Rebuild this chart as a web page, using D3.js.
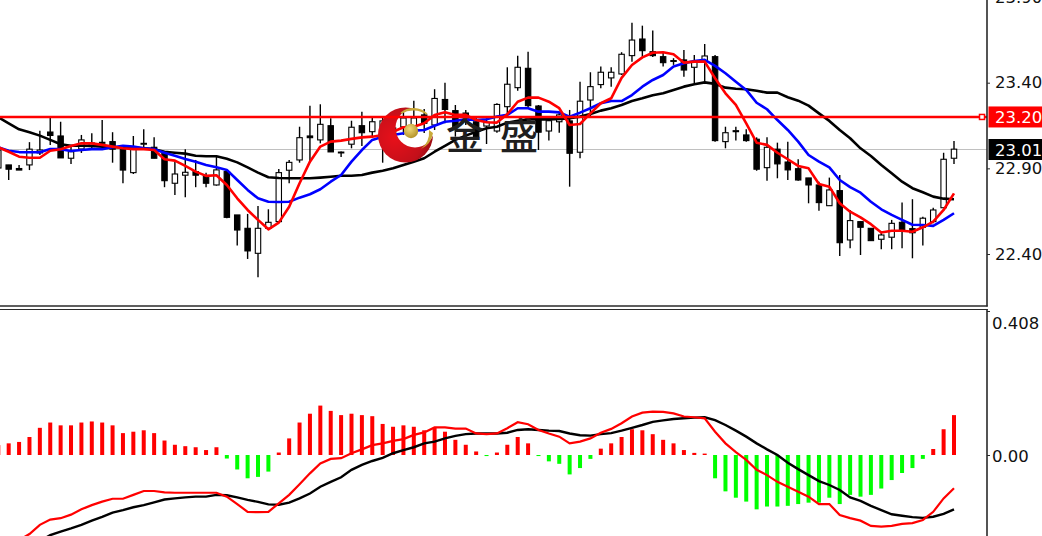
<!DOCTYPE html>
<html><head><meta charset="utf-8">
<script src="https://cdn.jsdelivr.net/npm/d3@7"></script>
<style>html,body{margin:0;padding:0;background:#fff;overflow:hidden}svg{display:block}</style>
</head><body><svg id="c" width="1042" height="536"></svg>
<script>
const opens=[22.902,22.920,22.899,22.920,22.990,23.112,23.089,22.959,23.013,23.027,23.046,23.056,23.012,22.875,23.041,23.023,22.988,22.813,22.860,22.881,22.856,22.803,22.881,22.628,22.550,22.404,22.550,22.589,22.889,22.949,23.089,23.066,23.149,22.995,23.041,23.149,23.114,23.054,23.066,23.142,23.136,23.212,23.153,23.302,23.237,23.223,23.172,23.147,23.118,23.260,23.371,23.484,23.264,23.118,23.172,23.177,22.994,23.299,23.389,23.428,23.451,23.558,23.655,23.581,23.552,23.529,23.533,23.490,23.523,23.552,23.056,23.114,23.095,23.070,22.904,23.012,22.937,22.898,22.844,22.803,22.682,22.770,22.482,22.589,22.550,22.486,22.498,22.585,22.548,22.556,22.589,22.670,22.959];
const highs=[23.066,22.920,22.920,23.053,23.120,23.194,23.172,23.037,23.095,23.105,23.182,23.111,23.031,23.089,23.128,23.081,22.999,22.939,23.012,22.949,22.875,22.968,22.891,22.628,22.634,22.680,22.661,22.896,22.949,23.143,23.266,23.274,23.192,22.999,23.178,23.231,23.202,23.194,23.182,23.241,23.295,23.247,23.362,23.400,23.270,23.241,23.194,23.194,23.280,23.490,23.558,23.581,23.270,23.192,23.229,23.241,23.406,23.461,23.494,23.490,23.578,23.750,23.733,23.704,23.579,23.543,23.591,23.562,23.626,23.562,23.143,23.143,23.128,23.081,23.081,23.050,23.056,22.953,22.844,22.822,22.846,22.861,22.657,22.589,22.550,22.525,22.599,22.700,22.720,22.618,22.670,22.991,23.060];
const lows=[22.902,22.832,22.890,22.890,22.978,23.037,22.961,22.926,22.990,23.007,23.019,22.933,22.813,22.867,23.013,22.959,22.790,22.745,22.731,22.790,22.790,22.799,22.609,22.449,22.371,22.264,22.540,22.587,22.813,22.933,22.933,23.046,22.996,22.966,23.017,23.031,23.085,22.933,23.007,23.095,23.095,23.106,23.124,23.163,23.085,23.153,23.066,23.042,23.108,23.212,23.353,23.252,23.007,23.062,23.108,22.793,22.959,23.202,23.368,23.377,23.445,23.523,23.552,23.550,23.494,23.504,23.435,23.397,23.398,23.056,23.017,23.062,23.056,22.886,22.828,22.842,22.832,22.828,22.696,22.653,22.682,22.388,22.434,22.394,22.476,22.428,22.428,22.434,22.375,22.449,22.579,22.667,22.926];
const closes=[23.007,22.895,22.890,23.012,23.007,23.092,22.961,22.997,23.066,23.048,23.052,23.012,22.890,23.027,23.046,22.959,22.828,22.867,22.877,22.860,22.813,22.891,22.614,22.540,22.418,22.550,22.585,22.875,22.935,23.079,23.079,23.157,22.996,22.990,23.140,23.108,23.172,23.177,23.136,23.194,23.194,23.163,23.308,23.244,23.143,23.194,23.085,23.170,23.273,23.391,23.490,23.266,23.111,23.178,23.212,22.988,23.292,23.377,23.461,23.461,23.566,23.649,23.587,23.558,23.517,23.525,23.474,23.523,23.556,23.062,23.108,23.120,23.062,22.895,23.023,22.926,22.891,22.832,22.803,22.700,22.774,22.466,22.595,22.556,22.478,22.511,22.579,22.540,22.524,22.609,22.657,22.953,23.012];

const maBlack=[23.198,23.163,23.128,23.111,23.091,23.066,23.041,23.032,23.032,23.031,23.027,23.023,23.023,23.021,23.017,23.012,22.997,22.991,22.986,22.974,22.971,22.971,22.956,22.935,22.906,22.875,22.848,22.844,22.842,22.842,22.842,22.846,22.851,22.857,22.857,22.861,22.875,22.886,22.900,22.920,22.939,22.959,22.997,23.031,23.066,23.091,23.114,23.134,23.143,23.167,23.178,23.186,23.186,23.186,23.188,23.192,23.202,23.217,23.237,23.251,23.270,23.293,23.309,23.327,23.338,23.358,23.377,23.391,23.402,23.393,23.371,23.365,23.362,23.353,23.342,23.342,23.315,23.295,23.266,23.221,23.177,23.124,23.076,23.017,22.972,22.920,22.871,22.822,22.784,22.760,22.735,22.723,22.720];
const maBlue=[23.023,23.003,22.995,22.994,22.994,23.013,23.012,23.001,23.007,23.012,23.012,23.023,23.032,23.027,23.017,23.012,22.991,22.974,22.955,22.939,22.920,22.906,22.891,22.832,22.774,22.725,22.705,22.704,22.705,22.729,22.749,22.778,22.822,22.861,22.939,23.007,23.066,23.085,23.095,23.105,23.120,23.124,23.149,23.172,23.178,23.186,23.182,23.186,23.202,23.212,23.251,23.251,23.231,23.231,23.227,23.202,23.225,23.251,23.280,23.293,23.293,23.328,23.377,23.416,23.445,23.494,23.513,23.527,23.533,23.498,23.455,23.406,23.358,23.283,23.245,23.182,23.124,23.056,22.978,22.939,22.906,22.832,22.790,22.758,22.705,22.661,22.628,22.599,22.571,22.569,22.564,22.599,22.638];
const maRed=[23.023,22.997,22.968,22.962,22.962,23.003,23.012,23.031,23.046,23.046,23.037,23.027,23.017,23.012,23.012,23.007,22.953,22.945,22.914,22.881,22.856,22.860,22.803,22.725,22.657,22.599,22.544,22.583,22.676,22.813,22.939,23.027,23.056,23.062,23.072,23.081,23.085,23.095,23.114,23.140,23.143,23.163,23.212,23.227,23.212,23.212,23.182,23.169,23.167,23.216,23.289,23.313,23.313,23.289,23.251,23.153,23.159,23.221,23.280,23.309,23.428,23.503,23.548,23.575,23.578,23.566,23.517,23.523,23.523,23.426,23.338,23.270,23.163,23.050,23.037,22.991,22.953,22.914,22.900,22.809,22.793,22.696,22.647,22.614,22.574,22.525,22.536,22.536,22.530,22.556,22.589,22.657,22.754];

const macdHist=[0.028,0.033,0.037,0.051,0.077,0.092,0.084,0.084,0.092,0.095,0.092,0.084,0.062,0.066,0.070,0.062,0.041,0.029,0.025,0.022,0.014,0.022,-0.010,-0.041,-0.066,-0.062,-0.047,0.007,0.047,0.092,0.117,0.140,0.125,0.113,0.117,0.113,0.110,0.088,0.080,0.084,0.080,0.070,0.077,0.066,0.043,0.029,0.010,-0.003,0.007,0.029,0.051,0.033,-0.003,-0.018,-0.025,-0.055,-0.037,-0.011,0.018,0.033,0.051,0.073,0.070,0.059,0.043,0.033,0.014,0.006,0.004,-0.066,-0.103,-0.121,-0.132,-0.154,-0.146,-0.146,-0.144,-0.139,-0.135,-0.135,-0.121,-0.139,-0.113,-0.118,-0.113,-0.095,-0.071,-0.051,-0.037,-0.011,0.017,0.073,0.113];
const macdRed=[-0.275,-0.261,-0.241,-0.224,-0.198,-0.183,-0.179,-0.169,-0.154,-0.142,-0.132,-0.124,-0.124,-0.113,-0.102,-0.102,-0.106,-0.107,-0.107,-0.107,-0.107,-0.107,-0.118,-0.139,-0.161,-0.162,-0.161,-0.137,-0.113,-0.083,-0.052,-0.024,-0.011,-0.009,0.005,0.016,0.028,0.033,0.040,0.045,0.057,0.064,0.078,0.078,0.075,0.075,0.061,0.059,0.061,0.076,0.093,0.087,0.071,0.061,0.052,0.033,0.038,0.047,0.063,0.074,0.090,0.109,0.120,0.123,0.122,0.118,0.109,0.107,0.104,0.066,0.033,0.008,-0.014,-0.042,-0.057,-0.076,-0.090,-0.104,-0.118,-0.139,-0.139,-0.170,-0.179,-0.186,-0.201,-0.203,-0.201,-0.195,-0.193,-0.184,-0.161,-0.123,-0.094];
const macdBlack=[-0.340,-0.312,-0.286,-0.263,-0.244,-0.227,-0.217,-0.208,-0.198,-0.186,-0.175,-0.163,-0.156,-0.148,-0.142,-0.134,-0.126,-0.123,-0.120,-0.118,-0.118,-0.113,-0.114,-0.120,-0.127,-0.133,-0.140,-0.141,-0.135,-0.123,-0.109,-0.090,-0.076,-0.063,-0.042,-0.028,-0.017,-0.008,0.005,0.014,0.022,0.033,0.038,0.047,0.054,0.059,0.061,0.061,0.061,0.063,0.071,0.073,0.071,0.069,0.068,0.061,0.056,0.055,0.059,0.062,0.069,0.077,0.085,0.094,0.098,0.102,0.104,0.106,0.107,0.099,0.085,0.069,0.052,0.033,0.016,0.000,-0.022,-0.040,-0.057,-0.074,-0.085,-0.099,-0.120,-0.130,-0.144,-0.156,-0.168,-0.172,-0.176,-0.178,-0.175,-0.167,-0.154];

const priceTicks=[22.40,22.90,23.40,23.90];
const macdTicks=[0,0.408];
const levelPrice=23.20, lastPrice=23.01;
const brandChars=["金","盛"];

const FONT='"DejaVu Sans",sans-serif';
const svg=d3.select("#c");
svg.append("rect").attr("width",1042).attr("height",536).attr("fill","#fff");
const x=d3.scaleLinear().domain([0,92]).range([-1.7,954]);
const y=d3.scaleLinear().domain([22.40,23.40]).range([254,82.7]);
const ym=d3.scaleLinear().domain([0,0.408]).range([455,311]);
const AX=987;

const defs=svg.append("defs");
defs.append("clipPath").attr("id","cpMain").append("rect").attr("x",0).attr("y",0).attr("width",AX).attr("height",305);
defs.append("clipPath").attr("id","cpSub").append("rect").attr("x",0).attr("y",310).attr("width",AX).attr("height",226);
const rg=defs.append("radialGradient").attr("id","gRed").attr("cx","0.3").attr("cy","0.55").attr("r","0.75");
rg.append("stop").attr("offset","0").attr("stop-color","#e8101a");
rg.append("stop").attr("offset","0.7").attr("stop-color","#c3101a");
rg.append("stop").attr("offset","1").attr("stop-color","#8d0c12");
const gg=defs.append("radialGradient").attr("id","gGold").attr("cx","0.4").attr("cy","0.35").attr("r","0.7");
gg.append("stop").attr("offset","0").attr("stop-color","#efd97a");
gg.append("stop").attr("offset","1").attr("stop-color","#b18f25");
const m=defs.append("mask").attr("id","mCres").attr("maskUnits","userSpaceOnUse").attr("x",370).attr("y",100).attr("width",80).attr("height",70);
m.append("rect").attr("x",370).attr("y",100).attr("width",80).attr("height",70).attr("fill","#fff");
m.append("circle").attr("cx",415).attr("cy",128).attr("r",19.5).attr("fill","#000");

const main=svg.append("g").attr("clip-path","url(#cpMain)");
main.append("line").attr("x1",0).attr("x2",AX).attr("y1",y(lastPrice)).attr("y2",y(lastPrice)).attr("stroke","#c0c0c0").attr("stroke-width",1);

const idx=d3.range(opens.length);
main.append("g").selectAll("line").data(idx).join("line")
 .attr("x1",i=>x(i)).attr("x2",i=>x(i)).attr("y1",i=>y(highs[i])).attr("y2",i=>y(lows[i]))
 .attr("stroke","#000").attr("stroke-width",1.4);
main.append("g").selectAll("rect").data(idx).join("rect")
 .attr("x",i=>x(i)-2.7).attr("width",5.4)
 .attr("y",i=>y(Math.max(opens[i],closes[i])))
 .attr("height",i=>Math.max(0.8,Math.abs(y(opens[i])-y(closes[i]))))
 .attr("fill",i=>closes[i]>=opens[i]?"#fff":"#000").attr("stroke","#000").attr("stroke-width",1.1);

const ln=d3.line().x((d,i)=>x(i)).y(d=>y(d));
[[maBlack,"#000"],[maBlue,"#0000ff"],[maRed,"#ff0000"]].forEach(([s,c])=>{
  main.append("path").attr("d",ln(s)).attr("fill","none").attr("stroke",c).attr("stroke-width",2.6).attr("stroke-linejoin","round");
});

// brand logo
const logo=svg.append("g");
logo.append("circle").attr("cx",405.5).attr("cy",135).attr("r",27.5).attr("fill","url(#gRed)").attr("mask","url(#mCres)");
logo.append("path").attr("d","M401 113 A20 20 0 0 1 427 114 A24 24 0 0 0 401 113 Z").attr("fill","#c9a93a").attr("stroke","#c9a93a").attr("stroke-width",1.5);
logo.append("path").attr("d","M433 133 A21 21 0 0 1 421 149 A22 22 0 0 0 429 130 Z").attr("fill","#c9a93a");
logo.append("circle").attr("cx",411).attr("cy",131).attr("r",7.2).attr("fill","url(#gGold)");
const bx=[465,519];
logo.selectAll("text").data(brandChars).join("text")
 .attr("x",(d,i)=>bx[i]).attr("y",149).attr("text-anchor","middle")
 .attr("font-family",'"Noto Sans CJK SC",sans-serif').attr("font-size",38).attr("font-weight",500)
 .attr("fill","#1f1f1f").text(d=>d);

// level line
svg.append("line").attr("x1",0).attr("x2",AX).attr("y1",y(levelPrice)).attr("y2",y(levelPrice)).attr("stroke","#ff0000").attr("stroke-width",2.6);
svg.append("rect").attr("x",979.5).attr("y",y(levelPrice)-2.5).attr("width",5).attr("height",5).attr("fill","#fff").attr("stroke","#ff0000").attr("stroke-width",1.5);

// sub panel
const sub=svg.append("g").attr("clip-path","url(#cpSub)");
sub.append("g").selectAll("rect").data(macdHist).join("rect")
 .attr("x",(d,i)=>x(i)-2).attr("width",4)
 .attr("y",d=>ym(Math.max(d,0))).attr("height",d=>Math.abs(ym(d)-ym(0)))
 .attr("fill",d=>d>=0?"#ff0000":"#00ff00");
const lm=d3.line().x((d,i)=>x(i)).y(d=>ym(d));
sub.append("path").attr("d",lm(macdBlack)).attr("fill","none").attr("stroke","#000").attr("stroke-width",2.4);
sub.append("path").attr("d",lm(macdRed)).attr("fill","none").attr("stroke","#ff0000").attr("stroke-width",2.2);

// frame
const frame="#2a2a2a";
svg.append("line").attr("x1",AX).attr("x2",AX).attr("y1",0).attr("y2",306.5).attr("stroke",frame).attr("stroke-width",1.6);
svg.append("line").attr("x1",AX).attr("x2",AX).attr("y1",309).attr("y2",536).attr("stroke",frame).attr("stroke-width",1.6);
svg.append("line").attr("x1",0).attr("x2",AX+.7).attr("y1",306).attr("y2",306).attr("stroke",frame).attr("stroke-width",1.4);
svg.append("line").attr("x1",0).attr("x2",AX+.7).attr("y1",309.5).attr("y2",309.5).attr("stroke",frame).attr("stroke-width",1.2);

// axes
const axP=d3.axisRight(y).tickValues(priceTicks).tickFormat(d3.format(".2f")).tickSize(3).tickPadding(5);
const gP=svg.append("g").attr("transform",`translate(${AX},0)`).call(axP);
gP.select(".domain").remove();
gP.selectAll("line").attr("stroke",frame);
gP.selectAll("text").attr("font-family",FONT).attr("font-size",16.5).attr("fill","#111");
const axM=d3.axisRight(ym).tickValues(macdTicks).tickFormat(d=>d===0?"0.00":"0.408").tickSize(3).tickPadding(2);
const gM=svg.append("g").attr("transform",`translate(${AX},0)`).call(axM);
gM.select(".domain").remove();
gM.selectAll("line").attr("stroke",frame);
gM.selectAll("text").attr("font-family",FONT).attr("font-size",16.5).attr("fill","#111").attr("dy",d=>d===0?"0.38em":"1.07em");

// price tags
[[levelPrice,"#ff0000","#fff"],[lastPrice,"#000","#fff"]].forEach(([p,bg,fg])=>{
  svg.append("rect").attr("x",988.5).attr("y",y(p)-10.5).attr("width",53.5).attr("height",21).attr("fill",bg);
  svg.append("text").attr("x",995).attr("y",y(p)+6.5).attr("font-family",FONT).attr("font-size",16.5).attr("fill",fg).text(p.toFixed(2));
});
</script></body></html>
